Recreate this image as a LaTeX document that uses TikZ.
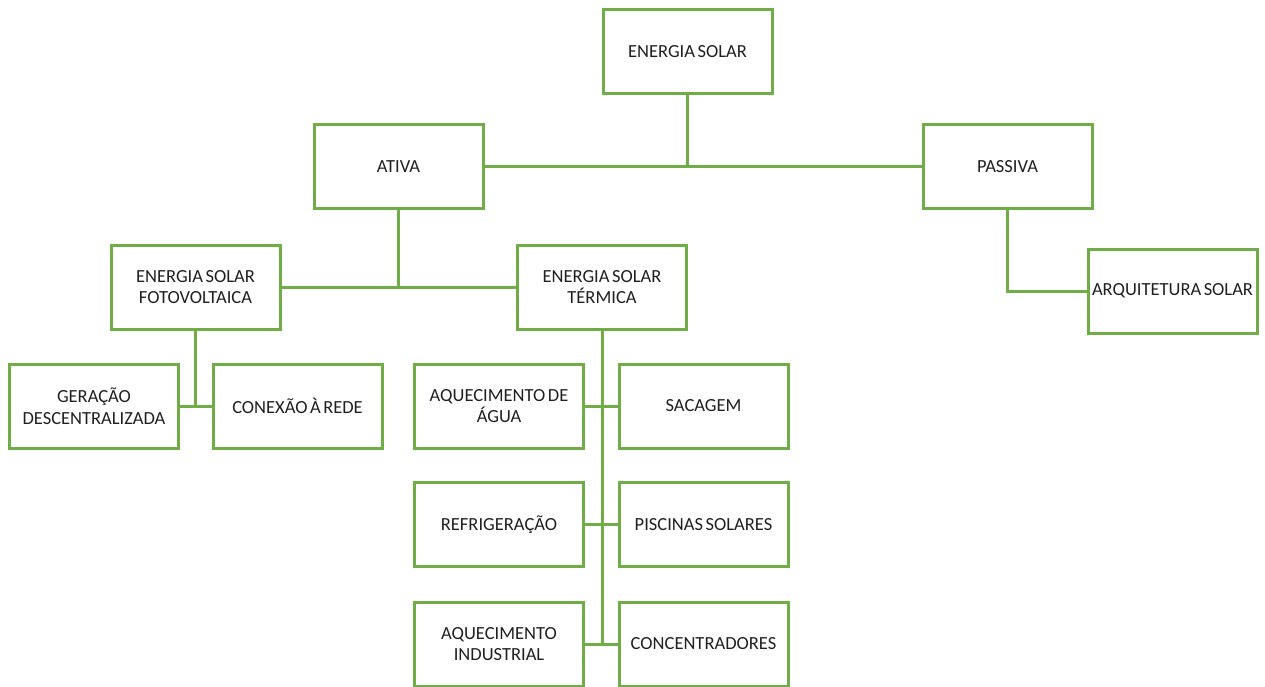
\documentclass[tikz,border=0pt]{standalone}
\usepackage{fontspec}
\setmainfont{Carlito}[WordSpace=0.6]
\definecolor{boxgreen}{HTML}{70AD47}
\definecolor{txt}{HTML}{202020}
\tikzset{
  box/.style={draw=boxgreen, line width=3pt, fill=white, minimum width=169pt, minimum height=84pt,
    inner sep=1pt, align=center, text=txt, font=\fontsize{18.5}{21.5}\selectfont},
  link/.style={draw=boxgreen, line width=3pt}
}
\begin{document}
\begin{tikzpicture}[x=1pt,y=-1pt]
\clip (0,0) rectangle (1265,686);
\fill[white] (0,0) rectangle (1265,686);
\coordinate (j1) at (687.5,167);
\coordinate (j2) at (398.5,287);
\coordinate (j4) at (195.5,406);
\coordinate (j7) at (602,644);
% nodes
\node[box] (es) at (687.5,51.5) {ENERGIA SOLAR};
\node[box] (at) at (398.5,166.5) {ATIVA};
\node[box] (pa) at (1007.5,166.5) {PASSIVA};
\node[box] (fv) at (195.5,287) {ENERGIA SOLAR\\FOTOVOLTAICA};
\node[box] (te) at (602,287) {ENERGIA SOLAR\\TÉRMICA};
\node[box] (ar) at (1172.5,291) {ARQUITETURA SOLAR};
\node[box] (ge) at (94,406) {GERAÇÃO\\DESCENTRALIZADA};
\node[box] (co) at (297.5,406) {CONEXÃO À REDE};
\node[box] (aq) at (499,406) {AQUECIMENTO DE\\ÁGUA};
\node[box] (sa) at (703.5,406) {SACAGEM};
\node[box] (re) at (499,524.5) {REFRIGERAÇÃO};
\node[box] (pi) at (703.5,524.5) {PISCINAS SOLARES};
\node[box] (ai) at (499,644) {AQUECIMENTO\\INDUSTRIAL};
\node[box] (cc) at (703.5,644) {CONCENTRADORES};
% connectors
\draw[link] (es.south) -- (j1);
\draw[link] (at.east) -- (pa.west);
\draw[link] (at.south) -- (j2);
\draw[link] (fv.east) -- (te.west);
\draw[link] (pa.south) |- (ar.west);
\draw[link] (fv.south) -- (j4);
\draw[link] (ge.east) -- (co.west);
\draw[link] (te.south) -- (j7);
\draw[link] (aq.east) -- (sa.west);
\draw[link] (re.east) -- (pi.west);
\draw[link] (ai.east) -- (cc.west);
\end{tikzpicture}
\end{document}
